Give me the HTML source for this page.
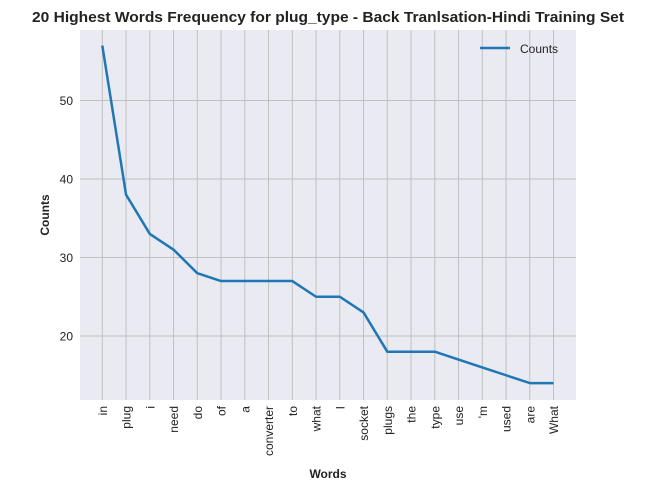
<!DOCTYPE html>
<html><head><meta charset="utf-8"><style>
body{margin:0;background:#fff;}
svg{font-family:"Liberation Sans",Arial,sans-serif;}
</style></head><body>
<svg id="chart" width="655" height="492">
<text x="328" y="22" text-anchor="middle" font-size="14.5" font-weight="bold" fill="#222" textLength="592" lengthAdjust="spacingAndGlyphs">20 Highest Words Frequency for plug_type - Back Tranlsation-Hindi Training Set</text>
<rect x="80" y="30" width="496" height="370" fill="#eaeaf2"/>
<g id="grid"></g>
<g id="ticks"></g>
<path id="line" fill="none" stroke="#1f77b4" stroke-width="2.5" stroke-linejoin="round"/>
<g>
<line x1="480" y1="48" x2="510" y2="48" stroke="#1f77b4" stroke-width="2.5"/>
<text x="520" y="53" font-size="12" fill="#222">Counts</text>
</g>
<text x="328" y="478" text-anchor="middle" font-size="12" font-weight="bold" fill="#222">Words</text>
<text transform="translate(49,215) rotate(-90)" text-anchor="middle" font-size="12" font-weight="bold" fill="#222">Counts</text>
</svg>
<script>
const words = ["in","plug","i","need","do","of","a","converter","to","what","I","socket","plugs","the","type","use","'m","used","are","What"];
const counts = [57,38,33,31,28,27,27,27,27,25,25,23,18,18,18,17,16,15,14,14];
const yTicks = [20,30,40,50];
const NS="http://www.w3.org/2000/svg";
const xs = i => 102.3 + i*23.75;
const ys = v => 336 - (v-20)*7.85;
const grid=document.getElementById('grid'), ticks=document.getElementById('ticks');
function mk(tag,attrs,parent){const e=document.createElementNS(NS,tag);for(const k in attrs)e.setAttribute(k,attrs[k]);parent.appendChild(e);return e;}
yTicks.forEach(v=>{
  const l=mk('line',{x1:80,x2:576,y1:ys(v),y2:ys(v),stroke:'#c0c0c0','stroke-width':1},grid);
  
  
  const t=mk('text',{x:73,y:ys(v)+4.5,'text-anchor':'end','font-size':12,fill:'#222'},ticks);
  t.textContent=v;
  
  
});
words.forEach((w,i)=>{
  const l=mk('line',{x1:xs(i),x2:xs(i),y1:30,y2:400,stroke:'#c0c0c0','stroke-width':1},grid);
  
  
  const t=mk('text',{transform:`translate(${xs(i)+4.5},406) rotate(-90)`,'text-anchor':'end','font-size':12,fill:'#222'},ticks);
  t.textContent=w;
  
  
});
document.getElementById('line').setAttribute('d',counts.map((v,i)=>(i?'L':'M')+xs(i)+','+ys(v)).join(' '));
</script>
</body></html>
